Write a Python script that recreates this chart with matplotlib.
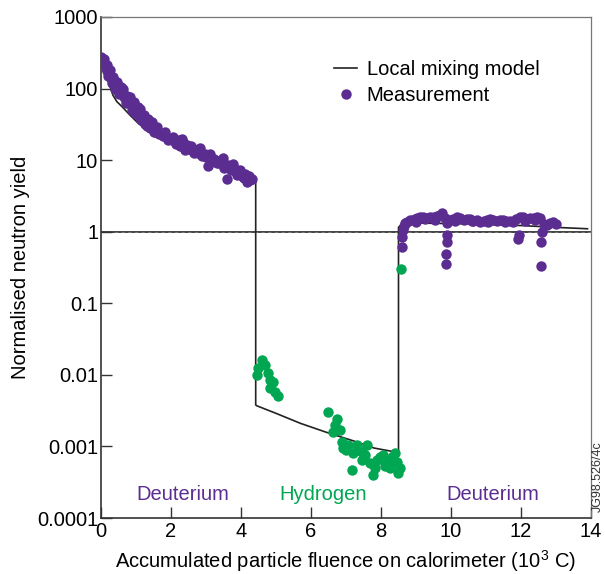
"""Normalised neutron yield versus accumulated particle fluence."""

import matplotlib
matplotlib.use("Agg")
import matplotlib.pyplot as plt
from matplotlib.lines import Line2D

PURPLE = "#5c2d91"
GREEN = "#00a651"

# Local mixing model curve
model_x = [0.02, 0.1, 0.17, 0.25, 0.34, 0.45, 0.63, 0.8, 1.03, 1.2, 1.4, 1.7, 2.0, 2.5, 3.0,
           3.5, 4.0, 4.42, 4.42, 4.45, 5.0, 5.7, 6.4, 7.2, 7.8, 8.5, 8.5, 8.6, 9.0, 10.0,
           11.0, 12.0, 13.0, 13.9]
model_y = [250, 190, 145, 110, 81, 66, 54, 44, 34, 29, 26, 22, 19, 15, 11,
           8.6, 6.5, 5.4, 0.0038, 0.0037, 0.0029, 0.0021, 0.0016, 0.0012, 0.00095, 0.00082, 1.15, 1.3, 1.32, 1.3,
           1.27, 1.22, 1.15, 1.1]

# Measurement, first deuterium phase
deut1_x = [0.0, 0.03, 0.06, 0.1, 0.14, 0.18, 0.22, 0.27, 0.32, 0.37, 0.42, 0.48, 0.54, 0.6,
           0.66, 0.72, 0.78, 0.84, 0.9, 0.96, 1.02, 1.08, 1.14, 1.2, 1.27, 1.34, 1.41, 1.48,
           1.55, 1.62, 1.7, 1.78, 1.86, 1.94, 2.02, 2.1, 2.18, 2.26, 2.3, 2.35, 2.42, 2.5,
           2.56, 2.62, 2.7, 2.78, 2.83, 2.9, 2.96, 3.0, 3.06, 3.12, 3.2, 3.28, 3.36, 3.44,
           3.49, 3.55, 3.6, 3.66, 3.72, 3.78, 3.84, 3.9, 3.96, 4.02, 4.08, 4.14, 4.2, 4.26, 4.3,
           0.05, 0.12, 0.2, 0.3, 0.4, 0.5, 0.7, 0.88, 1.0, 1.15, 1.3, 1.5, 1.65, 1.9, 2.15,
           2.4, 2.65, 2.88, 3.1, 3.3, 3.52, 3.7, 3.88, 4.05, 4.18,
           0.08, 0.16, 0.25, 0.35, 0.45, 0.57, 0.75, 0.93, 1.1, 1.24, 1.45, 1.6, 1.82, 2.06,
           2.22, 2.46, 2.6, 2.75, 3.03, 3.24, 3.4, 3.63, 3.8, 3.98, 4.12, 4.24,
           0.4, 0.62, 0.82, 1.05, 1.35]
deut1_y = [280, 260, 240, 215, 195, 178, 160, 145, 130, 118, 108, 98, 92, 84,
           76, 70, 66, 61, 56, 51, 46, 42, 39, 36, 32, 30, 28, 27,
           25, 24, 23, 22, 21, 20, 19, 18.5, 17.5, 16, 20, 18, 15, 14.5,
           16, 13.5, 13, 12.5, 15, 12, 12, 11, 8.2, 12, 10, 9.5, 9, 10,
           10.7, 8.5, 5.4, 8, 7.5, 8.8, 7, 6.8, 6.5, 6.2, 5.6, 6, 5.5, 5.2, 5.5,
           240, 200, 150, 120, 100, 85, 62, 50, 44, 36, 30, 25, 23, 19, 17,
           14, 12.5, 11.5, 10.5, 9, 7.8, 7.2, 6.3, 5.8, 5.0,
           255, 215, 180, 145, 125, 105, 80, 64, 52, 43, 34, 29, 25, 21,
           19, 16.5, 15, 14, 11.5, 10.5, 9.5, 8.5, 7.8, 7.2, 6.5, 6.0,
           125, 98, 76, 56, 38]

# Measurement, hydrogen phase
hyd_x = [4.45, 4.49, 4.59, 4.69, 4.77, 4.83, 4.91, 4.83, 4.97, 5.06,
         6.49, 6.74, 6.69, 6.63, 6.83, 6.89, 6.91, 7.06, 7.2, 7.17, 7.31, 7.46, 7.6, 7.46,
         7.69, 7.77, 7.83, 7.89, 7.97, 8.06, 8.11, 8.17, 8.26, 8.31, 8.4, 8.46, 8.49, 8.54,
         7.0, 7.35, 7.55, 8.0, 8.3, 8.57]
hyd_y = [0.0098, 0.0126, 0.016, 0.0138, 0.0107, 0.0085, 0.0079, 0.0066, 0.0058, 0.0051,
         0.003, 0.0024, 0.002, 0.0016, 0.0017, 0.00114, 0.00095, 0.00105, 0.00081, 0.00047,
         0.00105, 0.00083, 0.00105, 0.00064,
         0.00059, 0.0004, 0.0005, 0.00064, 0.00071, 0.00076, 0.00053, 0.0006, 0.0005, 0.00064,
         0.00081, 0.0006, 0.00043, 0.0005,
         0.0009, 0.0009, 0.00075, 0.00068, 0.00072, 0.30]

# Measurement, second deuterium phase
deut2_x = [8.6, 8.6, 8.62, 8.65, 8.69, 8.75, 8.83, 8.9, 8.97, 9.04, 9.11, 9.2, 9.3, 9.4,
           9.5, 9.6, 9.68, 9.74, 9.82, 9.89, 9.89, 9.89, 9.85, 9.85, 9.95, 10.05, 10.17,
           10.27, 10.37, 10.46, 10.54, 10.64, 10.74, 10.83, 10.93, 11.02, 11.11, 11.2, 11.3,
           11.4, 11.49, 11.58, 11.68, 11.77, 11.87, 11.91, 11.93, 11.97, 12.06, 12.16, 12.26,
           12.36, 12.46, 12.54, 12.6, 12.58, 12.57, 12.66, 12.74, 12.83, 12.91, 13.0,
           9.0, 9.25, 9.55, 10.1, 10.6, 11.05, 11.55, 12.1, 12.4]
deut2_y = [0.84, 0.62, 1.05, 1.2, 1.32, 1.38, 1.45, 1.48, 1.5, 1.55, 1.62, 1.58, 1.55, 1.58,
           1.62, 1.68, 1.72, 1.8, 1.55, 1.32, 0.91, 0.72, 0.49, 0.35, 1.45, 1.5, 1.58,
           1.55, 1.48, 1.52, 1.5, 1.42, 1.45, 1.37, 1.42, 1.48, 1.5, 1.45, 1.42,
           1.46, 1.45, 1.4, 1.42, 1.37, 1.5, 0.8, 0.9, 1.62, 1.58, 1.52, 1.55,
           1.55, 1.6, 1.55, 1.0, 0.72, 0.33, 1.3, 1.26, 1.32, 1.37, 1.3,
           1.38, 1.5, 1.45, 1.4, 1.4, 1.38, 1.35, 1.4, 1.45]

x_ticks = [0, 2, 4, 6, 8, 10, 12, 14]
y_ticks = [1e-4, 1e-3, 1e-2, 1e-1, 1, 10, 100, 1000]
y_tick_labels = ["0.0001", "0.001", "0.01", "0.1", "1", "10", "100", "1000"]

plt.rcParams["font.family"] = ["Liberation Sans", "DejaVu Sans"]
plt.rcParams["mathtext.default"] = "regular"

fig = plt.figure(figsize=(6.05, 5.74), dpi=100)
ax = fig.add_axes([101 / 605, 56 / 574, 490 / 605, 501 / 574])
ax.set_yscale("log")
ax.set_xlim(0, 14)
ax.set_ylim(1e-4, 1e3)

# Reference line at unity
ax.axhline(1, color="#333333", lw=1.3, zorder=1)
ax.axhline(1, color="white", lw=0.4, ls=(0, (6, 6)), alpha=0.45, zorder=1)

ax.plot(model_x, model_y, color="#222222", lw=1.2, zorder=2)

ms = 7.5
ax.plot(deut1_x, deut1_y, "o", color=PURPLE, ms=ms, mec="none", zorder=3)
ax.plot(hyd_x, hyd_y, "o", color=GREEN, ms=ms, mec="none", zorder=3)
ax.plot(deut2_x, deut2_y, "o", color=PURPLE, ms=ms, mec="none", zorder=3)

ax.text(2.35, 2.1e-4, "Deuterium", color=PURPLE, fontsize=14.5, ha="center", va="center")
ax.text(6.35, 2.1e-4, "Hydrogen", color=GREEN, fontsize=14.5, ha="center", va="center")
ax.text(11.2, 2.1e-4, "Deuterium", color=PURPLE, fontsize=14.5, ha="center", va="center")

handles = [
    Line2D([], [], color="#222222", lw=1.2),
    Line2D([], [], marker="o", ls="none", color=PURPLE, ms=ms, mec="none"),
]
ax.legend(handles, ["Local mixing model", "Measurement"], loc="upper left",
          bbox_to_anchor=(0.46, 0.93), frameon=False, fontsize=14.5,
          handlelength=1.1, handletextpad=0.5, labelspacing=0.35, borderaxespad=0)

ax.set_xticks(x_ticks)
ax.set_yticks(y_ticks)
ax.set_yticklabels(y_tick_labels)
ax.minorticks_off()
ax.tick_params(direction="in", length=8, width=1, labelsize=14.5, color="#333333")
ax.tick_params(axis="x", pad=3)
ax.tick_params(axis="y", pad=2)

for side in ("left", "bottom"):
    ax.spines[side].set_color("#333333")
    ax.spines[side].set_linewidth(1.2)
for side in ("top", "right"):
    ax.spines[side].set_color("#777777")
    ax.spines[side].set_linewidth(0.9)

ax.set_xlabel("Accumulated particle fluence on calorimeter (10$^3$ C)", fontsize=14.5, labelpad=5)
ax.set_ylabel("Normalised neutron yield", fontsize=14.5, labelpad=5)

fig.text(598 / 605, 1 - 477 / 574, "JG98.526/4c", rotation=90, fontsize=9,
         color="#333333", ha="center", va="center")

fig.savefig("out.png", dpi=100)
